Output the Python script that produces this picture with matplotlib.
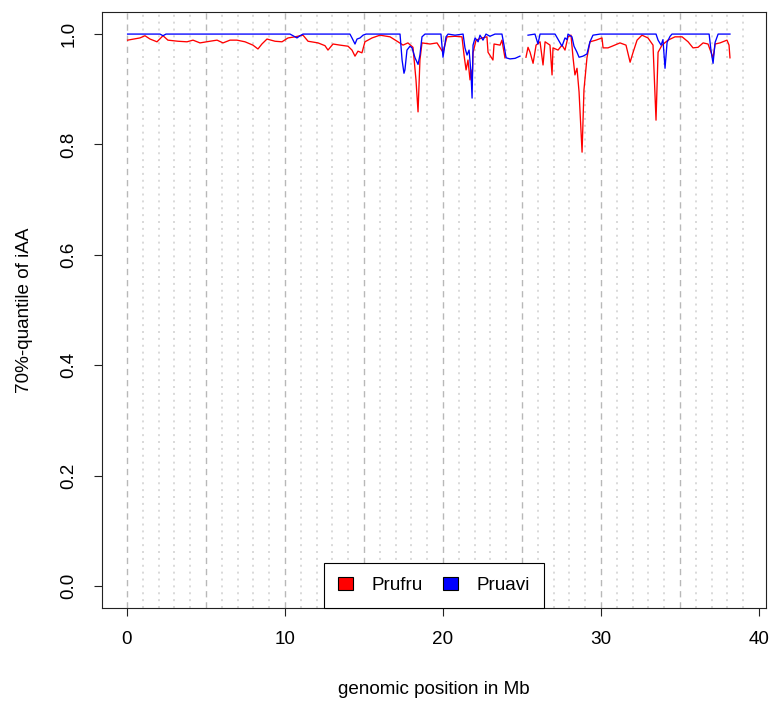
import numpy as np
import matplotlib
matplotlib.use("Agg")
import matplotlib.pyplot as plt
from matplotlib.patches import Patch

plt.rcParams['font.family'] = ['Liberation Sans', 'DejaVu Sans']

# Prufru: 70%-quantile of iAA along the genome (position in Mb, value)
prufru_pos = [0.04, 0.82, 1.14, 1.46, 1.90, 2.28, 2.59, 3.23, 3.80, 4.18, 4.62, 5.25,
              5.70, 6.08, 6.52, 6.96, 7.47, 7.97, 8.29, 8.54, 8.86, 9.37, 9.81, 10.19,
              10.63, 11.14, 11.46, 12.09, 12.53, 12.72, 13.04, 13.48, 13.99, 14.24, 14.43,
              14.62, 14.87, 15.06, 15.51, 16.01, 16.65, 17.15, 17.47, 17.78, 18.10, 18.29,
              18.42, 18.54, 18.67, 19.18, 19.62, 20.00, 20.25, 20.76, 21.20, 21.33, 21.46,
              21.58, 21.71, 21.77, 21.84, 21.90, 22.09, 22.47, 22.78, 22.85, 23.16, 23.23,
              23.61, 23.73, 23.92, 24.50,
              25.25, 25.38, 25.51, 25.70, 25.89, 26.14, 26.33, 26.46, 26.77, 26.90, 26.96,
              27.28, 27.53, 27.72, 27.91, 28.10, 28.23, 28.35, 28.48, 28.61, 28.80, 28.92,
              29.11, 29.30, 29.68, 30.06, 30.13, 30.44, 30.70, 31.20, 31.58, 31.84, 32.03,
              32.28, 32.59, 32.97, 33.29, 33.48, 33.61, 33.86, 34.24, 34.68, 35.13, 35.51,
              35.82, 36.14, 36.46, 36.77, 37.09, 37.22, 37.53, 37.97, 38.10, 38.16]
prufru_val = [0.989, 0.993, 0.997, 0.991, 0.986, 0.997, 0.989, 0.987, 0.986, 0.989, 0.984, 0.987,
              0.989, 0.984, 0.989, 0.989, 0.986, 0.980, 0.973, 0.982, 0.991, 0.987, 0.986, 0.993,
              0.995, 0.998, 0.987, 0.984, 0.979, 0.971, 0.982, 0.980, 0.978, 0.971, 0.960,
              0.969, 0.966, 0.986, 0.993, 0.998, 0.995, 0.986, 0.980, 0.984, 0.976, 0.917,
              0.859, 0.953, 0.984, 0.982, 0.984, 0.967, 0.995, 0.996, 0.995, 0.962, 0.935,
              0.953, 0.917, 0.935, 0.908, 0.966, 0.989, 0.993, 0.995, 0.967, 0.953, 0.982,
              0.980, 0.989, 0.957, np.nan,
              0.958, 0.976, 0.967, 0.947, 0.980, 0.986, 0.944, 0.986, 0.980, 0.926, 0.975,
              0.971, 0.980, 0.971, 0.995, 0.998, 0.957, 0.926, 0.938, 0.895, 0.786, 0.899,
              0.957, 0.986, 0.989, 0.993, 0.975, 0.975, 0.978, 0.984, 0.980, 0.949, 0.967,
              0.989, 0.998, 0.993, 0.980, 0.844, 0.967, 0.980, 0.989, 0.995, 0.995, 0.986,
              0.975, 0.976, 0.984, 0.982, 0.957, 0.982, 0.984, 0.989, 0.980, 0.957]

# Pruavi: 70%-quantile of iAA along the genome (position in Mb, value)
pruavi_pos = [0.04, 2.09, 2.28, 2.47, 7.78, 10.32, 10.57, 10.76, 10.95, 11.14, 14.11, 14.24,
              14.43, 14.56, 14.75, 14.94, 15.13, 17.28, 17.41, 17.53, 17.59, 17.72, 17.91,
              18.04, 18.23, 18.42, 18.54, 18.67, 18.86, 19.87, 20.00, 20.19, 20.32, 20.76,
              21.27, 21.39, 21.52, 21.65, 21.77, 21.84, 21.90, 22.03, 22.22, 22.34, 22.53,
              22.72, 22.97, 23.29, 23.73, 23.86, 23.99, 24.24, 24.56, 24.87, 25.10,
              25.38, 25.82, 26.01, 26.14, 27.09, 27.53, 27.72, 27.85, 27.91, 28.16, 28.29,
              28.48, 28.61, 28.86, 29.11, 29.30, 29.49, 29.94, 33.48, 33.61, 33.80, 33.92,
              34.05, 34.18, 34.37, 34.49, 36.84, 36.96, 37.09, 37.22, 37.41, 38.16]
pruavi_val = [1.0, 1.0, 0.997, 1.0, 1.0, 1.0, 0.996, 0.993, 0.997, 1.0, 1.0, 0.993,
              0.982, 0.991, 0.993, 0.998, 1.0, 1.0, 0.953, 0.929, 0.935, 0.971, 0.978,
              0.975, 0.957, 0.945, 0.962, 0.995, 1.0, 1.0, 0.958, 0.995, 1.0, 0.998,
              1.0, 0.975, 0.962, 0.971, 0.930, 0.884, 0.980, 0.993, 0.986, 0.998, 0.989,
              1.0, 0.996, 1.0, 1.0, 0.980, 0.957, 0.955, 0.956, 0.960, np.nan,
              0.998, 1.0, 0.982, 1.0, 1.0, 0.978, 0.993, 0.990, 1.0, 0.995, 0.978,
              0.967, 0.958, 0.960, 0.964, 0.986, 0.998, 1.0, 1.0, 0.989, 0.980, 0.990,
              0.938, 0.985, 0.996, 1.0, 1.0, 0.970, 0.947, 0.985, 1.0, 1.0]

x_ticks = [0, 10, 20, 30, 40]
y_ticks = [0.0, 0.2, 0.4, 0.6, 0.8, 1.0]
y_tick_labels = ["0.0", "0.2", "0.4", "0.6", "0.8", "1.0"]

FS = 13.6

fig = plt.figure(figsize=(7.7, 7.04), dpi=100)
ax = fig.add_axes([102 / 770, 96 / 704, 664 / 770, 596 / 704])

# background guides: dotted every Mb, dashed every 5 Mb
for m in range(0, 40):
    if m % 5 != 0:
        ax.axvline(m, color='#cfcfcf', lw=1.1, ls=(0, (1.3, 3.2)), zorder=0)
for m in range(0, 40, 5):
    ax.axvline(m, color='#b8b8b8', lw=1.0, ls=(0, (4.5, 3.5)), zorder=0)

ax.plot(prufru_pos, prufru_val, color='#ff0000', lw=0.95, zorder=2)
ax.plot(pruavi_pos, pruavi_val, color='#0000ff', lw=0.95, zorder=3)

ax.set_xlim(-1.58, 40.44)
ax.set_ylim(-0.04, 1.04)
ax.set_xticks(x_ticks)
ax.set_xticklabels([str(t) for t in x_ticks])
ax.set_yticks(y_ticks)
ax.set_yticklabels(y_tick_labels, rotation=90, va='center')
ax.tick_params(direction='out', length=5.5, width=0.8, labelsize=FS, colors='#222222',
               labelcolor='black')
ax.tick_params(axis='x', pad=11)
ax.tick_params(axis='y', pad=12)
for s in ax.spines.values():
    s.set_linewidth(0.8)
    s.set_color('#222222')

ax.set_xlabel("genomic position in Mb", fontsize=FS, va='center')
ax.xaxis.set_label_coords(0.5, (608 - 690) / 596)
ax.set_ylabel("70%-quantile of iAA", fontsize=FS, va='center')
ax.yaxis.set_label_coords((25 - 102) / 664, 0.5)

handles = [Patch(facecolor='#ff0000', edgecolor='black', lw=0.8, label='Prufru'),
           Patch(facecolor='#0000ff', edgecolor='black', lw=0.8, label='Pruavi')]
leg = ax.legend(handles=handles, loc='lower center', bbox_to_anchor=(0.5, 0.0), ncol=2,
                fontsize=FS, frameon=True, fancybox=False, edgecolor='black',
                borderaxespad=0, borderpad=0.75, handlelength=0.8, handleheight=0.65,
                handletextpad=0.95, columnspacing=1.1)
leg.get_frame().set_linewidth(0.8)
leg.get_frame().set_alpha(1)

fig.savefig("out.png", dpi=100)
